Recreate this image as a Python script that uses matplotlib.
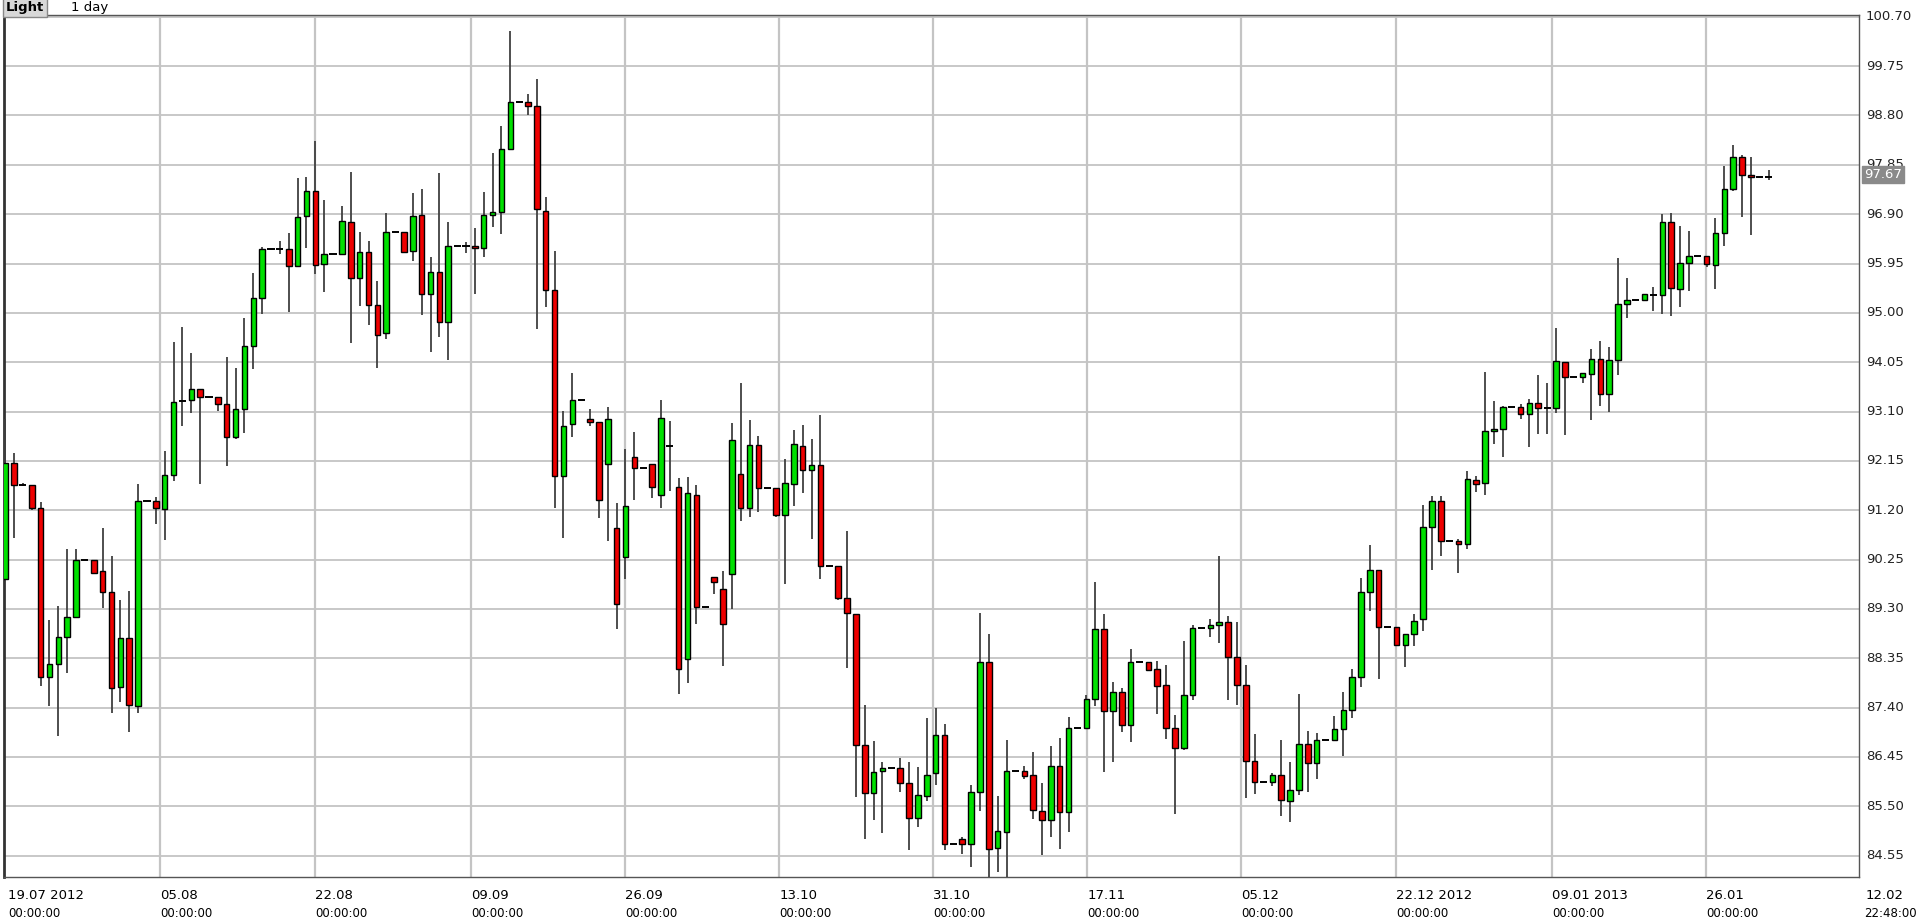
import matplotlib
matplotlib.use("Agg")
import matplotlib.pyplot as plt
import numpy as np

# daily OHLC, Light crude, 19.07.2012 - 12.02.2013
opens = [89.87, 92.10, 91.69, 91.69, 91.25, 87.98, 88.23, 88.75, 89.15, 90.25,
         90.25, 90.02, 89.63, 87.79, 88.73, 87.42, 91.38, 91.38, 91.23, 91.88,
         93.30, 93.32, 93.54, 93.38, 93.38, 93.25, 92.60, 93.14, 94.37, 95.29,
         96.22, 96.22, 96.22, 95.91, 96.87, 97.35, 95.95, 96.13, 96.13, 96.75,
         95.68, 96.18, 95.16, 94.61, 96.56, 96.56, 96.19, 96.89, 95.37, 95.78,
         94.83, 96.29, 96.29, 96.29, 96.25, 96.89, 96.95, 98.16, 99.06, 99.06,
         98.98, 96.97, 95.44, 91.85, 92.85, 93.32, 92.95, 92.89, 92.09, 90.85,
         90.30, 92.22, 92.01, 92.09, 91.49, 92.43, 91.64, 88.33, 91.49, 89.33,
         89.91, 89.68, 89.97, 91.89, 91.24, 92.45, 91.62, 91.62, 91.10, 91.70,
         92.43, 91.97, 92.07, 90.12, 90.12, 89.51, 89.20, 86.68, 85.76, 86.17,
         86.24, 86.24, 85.94, 85.28, 85.69, 86.13, 86.88, 84.78, 84.86, 84.78,
         85.78, 88.27, 84.69, 85.01, 86.17, 86.17, 86.10, 85.40, 85.24, 86.28,
         85.38, 87.00, 87.00, 87.57, 88.92, 87.34, 87.69, 87.07, 88.27, 88.27,
         88.15, 87.83, 87.00, 86.62, 87.64, 88.93, 88.93, 88.98, 89.04, 88.37,
         87.83, 86.37, 85.96, 85.96, 86.10, 85.60, 85.82, 86.69, 86.33, 86.78,
         86.78, 86.98, 87.35, 87.98, 89.62, 90.04, 88.95, 88.95, 88.60, 88.81,
         89.10, 90.87, 91.37, 90.60, 90.60, 90.55, 91.78, 91.72, 92.73, 92.77,
         93.19, 93.19, 93.05, 93.27, 93.17, 93.17, 94.06, 93.77, 93.77, 93.83,
         94.11, 93.44, 94.09, 95.17, 95.25, 95.25, 95.35, 95.35, 96.75, 95.46,
         95.96, 96.10, 96.10, 95.92, 96.54, 97.39, 98.00, 97.66, 97.62, 97.61]
highs = [92.95, 92.31, 91.72, 91.69, 91.36, 89.09, 89.35, 90.45, 90.45, 90.25,
         90.25, 90.85, 90.31, 89.47, 89.64, 91.71, 91.38, 91.46, 92.33, 94.43,
         94.72, 94.22, 93.54, 93.38, 93.38, 94.15, 93.93, 94.91, 95.76, 96.27,
         96.22, 96.38, 96.53, 97.60, 97.61, 98.30, 97.18, 96.13, 97.06, 97.72,
         96.55, 96.38, 95.61, 96.93, 96.56, 96.56, 97.30, 97.38, 96.07, 97.70,
         96.74, 96.29, 96.36, 96.64, 97.32, 98.07, 98.59, 100.42, 99.06, 99.21,
         99.51, 97.24, 96.19, 93.11, 93.84, 93.32, 93.15, 92.89, 93.19, 91.34,
         92.38, 92.71, 92.01, 92.09, 93.32, 92.92, 91.82, 91.84, 91.69, 89.33,
         89.91, 90.03, 92.88, 93.65, 92.94, 92.63, 91.62, 91.62, 92.19, 92.75,
         92.84, 92.57, 93.04, 90.12, 90.12, 90.80, 89.20, 87.45, 86.75, 86.35,
         86.24, 86.42, 86.35, 86.26, 87.20, 87.39, 87.09, 84.78, 84.91, 85.91,
         89.22, 88.81, 85.69, 86.77, 86.17, 86.28, 86.54, 85.95, 86.65, 86.82,
         87.21, 87.00, 87.65, 89.81, 89.20, 87.89, 87.77, 88.52, 88.27, 88.27,
         88.29, 88.22, 87.26, 88.68, 88.98, 88.93, 89.11, 90.32, 89.17, 89.04,
         88.22, 86.89, 85.96, 86.14, 86.77, 86.35, 87.66, 86.95, 86.91, 86.78,
         87.24, 87.70, 88.14, 89.90, 90.53, 90.04, 88.95, 88.95, 88.81, 89.20,
         91.30, 91.48, 91.48, 90.60, 90.65, 91.95, 91.85, 93.87, 93.31, 93.21,
         93.19, 93.25, 93.34, 93.81, 93.64, 94.70, 94.06, 93.77, 93.85, 94.30,
         94.45, 94.35, 96.05, 95.68, 95.25, 95.37, 95.49, 96.91, 96.93, 96.68,
         96.57, 96.10, 96.10, 96.82, 97.82, 98.24, 98.04, 98.01, 97.62, 97.76]
lows = [89.87, 90.66, 91.66, 91.21, 87.81, 87.42, 86.85, 88.07, 89.13, 90.25,
        90.00, 89.32, 87.30, 87.51, 86.92, 87.30, 91.38, 90.94, 90.63, 91.77,
        92.82, 93.07, 91.71, 93.38, 93.11, 92.05, 92.57, 92.69, 93.92, 94.98,
        96.22, 96.14, 95.02, 95.89, 96.24, 95.75, 95.40, 96.13, 96.13, 94.41,
        95.13, 94.76, 93.94, 94.50, 96.56, 96.17, 95.99, 94.96, 94.25, 94.54,
        94.10, 96.29, 96.15, 95.36, 96.07, 96.65, 96.52, 98.13, 99.06, 98.81,
        94.68, 95.11, 91.25, 90.66, 92.60, 93.32, 92.82, 91.04, 90.60, 88.92,
        89.87, 91.39, 92.01, 91.44, 91.25, 91.56, 87.67, 87.88, 89.00, 89.33,
        89.58, 88.19, 89.29, 91.00, 91.07, 91.16, 91.62, 91.06, 89.77, 91.29,
        91.54, 90.64, 89.88, 90.12, 89.47, 88.17, 85.67, 84.86, 85.24, 84.99,
        86.24, 85.77, 84.66, 85.10, 85.60, 85.91, 84.65, 84.78, 84.58, 84.33,
        85.41, 84.04, 84.24, 84.12, 86.17, 86.03, 85.26, 84.56, 84.91, 84.67,
        85.01, 87.00, 87.00, 87.43, 86.16, 86.35, 86.93, 86.73, 88.27, 88.10,
        87.28, 86.80, 85.35, 86.58, 87.55, 88.93, 88.75, 88.65, 87.55, 87.44,
        85.65, 85.74, 85.96, 85.89, 85.31, 85.19, 85.71, 85.78, 86.03, 86.78,
        86.78, 86.46, 87.19, 87.79, 89.25, 87.95, 88.95, 88.58, 88.18, 88.59,
        88.87, 90.04, 90.31, 90.60, 90.00, 90.45, 91.55, 91.50, 92.47, 92.23,
        93.19, 92.95, 92.41, 92.66, 92.66, 93.07, 92.65, 93.77, 93.65, 92.93,
        93.21, 93.09, 93.80, 94.90, 95.25, 95.23, 95.03, 94.97, 94.94, 95.11,
        95.42, 96.10, 95.88, 95.46, 96.28, 97.34, 96.84, 96.50, 97.62, 97.56]
closes = [92.10, 91.69, 91.69, 91.25, 87.98, 88.23, 88.75, 89.15, 90.25, 90.25,
          90.00, 89.63, 87.77, 88.73, 87.44, 91.38, 91.38, 91.25, 91.87, 93.29,
          93.30, 93.54, 93.38, 93.38, 93.25, 92.60, 93.14, 94.37, 95.29, 96.22,
          96.22, 96.22, 95.91, 96.85, 97.35, 95.93, 96.13, 96.13, 96.77, 95.68,
          96.18, 95.16, 94.58, 96.56, 96.56, 96.18, 96.87, 95.37, 95.78, 94.83,
          96.29, 96.29, 96.29, 96.25, 96.89, 96.95, 98.16, 99.06, 99.06, 98.98,
          96.99, 95.44, 91.85, 92.83, 93.32, 93.32, 92.89, 91.39, 92.96, 89.39,
          91.28, 92.01, 92.01, 91.64, 92.97, 92.43, 88.14, 91.53, 89.33, 89.33,
          89.81, 89.00, 92.55, 91.24, 92.45, 91.62, 91.62, 91.10, 91.72, 92.47,
          91.97, 92.07, 90.12, 90.12, 89.51, 89.22, 86.68, 85.75, 86.16, 86.24,
          86.24, 85.94, 85.28, 85.71, 86.11, 86.88, 84.78, 84.78, 84.78, 85.78,
          88.27, 84.67, 85.03, 86.17, 86.17, 86.08, 85.42, 85.24, 86.28, 85.38,
          87.00, 87.00, 87.57, 88.92, 87.34, 87.69, 87.07, 88.27, 88.27, 88.13,
          87.82, 87.00, 86.62, 87.64, 88.93, 88.93, 88.98, 89.04, 88.37, 87.83,
          86.37, 85.96, 85.96, 86.10, 85.62, 85.82, 86.69, 86.33, 86.78, 86.78,
          86.98, 87.35, 87.98, 89.62, 90.04, 88.95, 88.95, 88.60, 88.81, 89.06,
          90.87, 91.37, 90.60, 90.60, 90.55, 91.80, 91.70, 92.73, 92.77, 93.19,
          93.19, 93.05, 93.27, 93.17, 93.17, 94.08, 93.77, 93.77, 93.85, 94.11,
          93.44, 94.09, 95.17, 95.25, 95.25, 95.37, 95.35, 96.75, 95.48, 95.96,
          96.10, 96.10, 95.94, 96.54, 97.39, 98.00, 97.66, 97.62, 97.62, 97.61]

date_ticks = [17.4, 34.8, 52.3, 69.6, 86.9, 104.2, 121.5, 138.8, 156.2, 173.7, 191.0]
date_labels = ["05.08", "22.08", "09.09", "26.09", "13.10", "31.10", "17.11",
               "05.12", "22.12 2012", "09.01 2013", "26.01"]
price_ticks = [round(100.70 - 0.95 * k, 2) for k in range(18)]
last_price = 97.67

GREEN = "#00e000"
RED = "#ee0000"
GRID = "#c4c4c4"
YMIN, YMAX = 84.14, 100.74

fig = plt.figure(figsize=(19.2, 9.22), dpi=100)
ax = fig.add_axes([0.002, 0.049, 0.966, 0.935])

o = np.array(opens); h = np.array(highs); l = np.array(lows); c = np.array(closes)
x = np.arange(len(o)) * 0.995

ax.vlines(x, l, h, color="#404040", lw=1.3, zorder=3)
up = c > o
down = c < o
flat = c == o
ax.bar(x[up], (c - o)[up], bottom=o[up], width=0.62, color=GREEN,
       edgecolor="black", linewidth=1.0, zorder=4)
ax.bar(x[down], (o - c)[down], bottom=c[down], width=0.62, color=RED,
       edgecolor="black", linewidth=1.0, zorder=4)
ax.hlines(o[flat], x[flat] - 0.4, x[flat] + 0.4, color="black", lw=1.4, zorder=4)

ax.set_xlim(-0.15, 208.1)
ax.set_ylim(YMIN, YMAX)

for p in price_ticks:
    ax.axhline(p, color=GRID, lw=1.3, zorder=1)
for t in date_ticks:
    ax.axvline(t, color=GRID, lw=1.6, zorder=1)

ax.set_xticks([])
ax.set_yticks([])
for s in ax.spines.values():
    s.set_color("#555555")
    s.set_linewidth(1.0)
ax.spines["left"].set_color("#333333")
ax.spines["left"].set_linewidth(2.0)

# right side price labels
for p in price_ticks:
    ax.text(1.004, (p - YMIN) / (YMAX - YMIN), f"{p:.2f}", transform=ax.transAxes,
            fontsize=9.5, ha="left", va="center", color="#222222")
ax.text(1.003, (last_price - YMIN) / (YMAX - YMIN), f"{last_price:.2f}",
        transform=ax.transAxes, fontsize=9.5, ha="left", va="center", color="white",
        bbox=dict(boxstyle="square,pad=0.15", fc="#8a8a8a", ec="#8a8a8a"))

# date labels under the frame
trans = ax.get_xaxis_transform()
ax.text(0.3, -0.022, "19.07 2012", transform=trans, fontsize=9.5, ha="left", va="center")
ax.text(0.3, -0.043, "00:00:00", transform=trans, fontsize=8.5, ha="left", va="center")
for t, lab in zip(date_ticks, date_labels):
    ax.text(t, -0.022, lab, transform=trans, fontsize=9.5, ha="left", va="center")
    ax.text(t, -0.043, "00:00:00", transform=trans, fontsize=8.5, ha="left", va="center")
ax.text(1.004, -0.022, "12.02", transform=ax.transAxes, fontsize=9.5, ha="left", va="center")
ax.text(1.003, -0.043, "22:48:00", transform=ax.transAxes, fontsize=8.5, ha="left", va="center")

# header
fig.text(0.003, 0.992, "Light", fontsize=9.5, fontweight="bold", ha="left", va="center",
         bbox=dict(boxstyle="square,pad=0.2", fc="#d8d8d8", ec="#888888"))
fig.text(0.037, 0.992, "1 day", fontsize=9.5, ha="left", va="center")

fig.savefig("out.png", dpi=100, facecolor="white")
